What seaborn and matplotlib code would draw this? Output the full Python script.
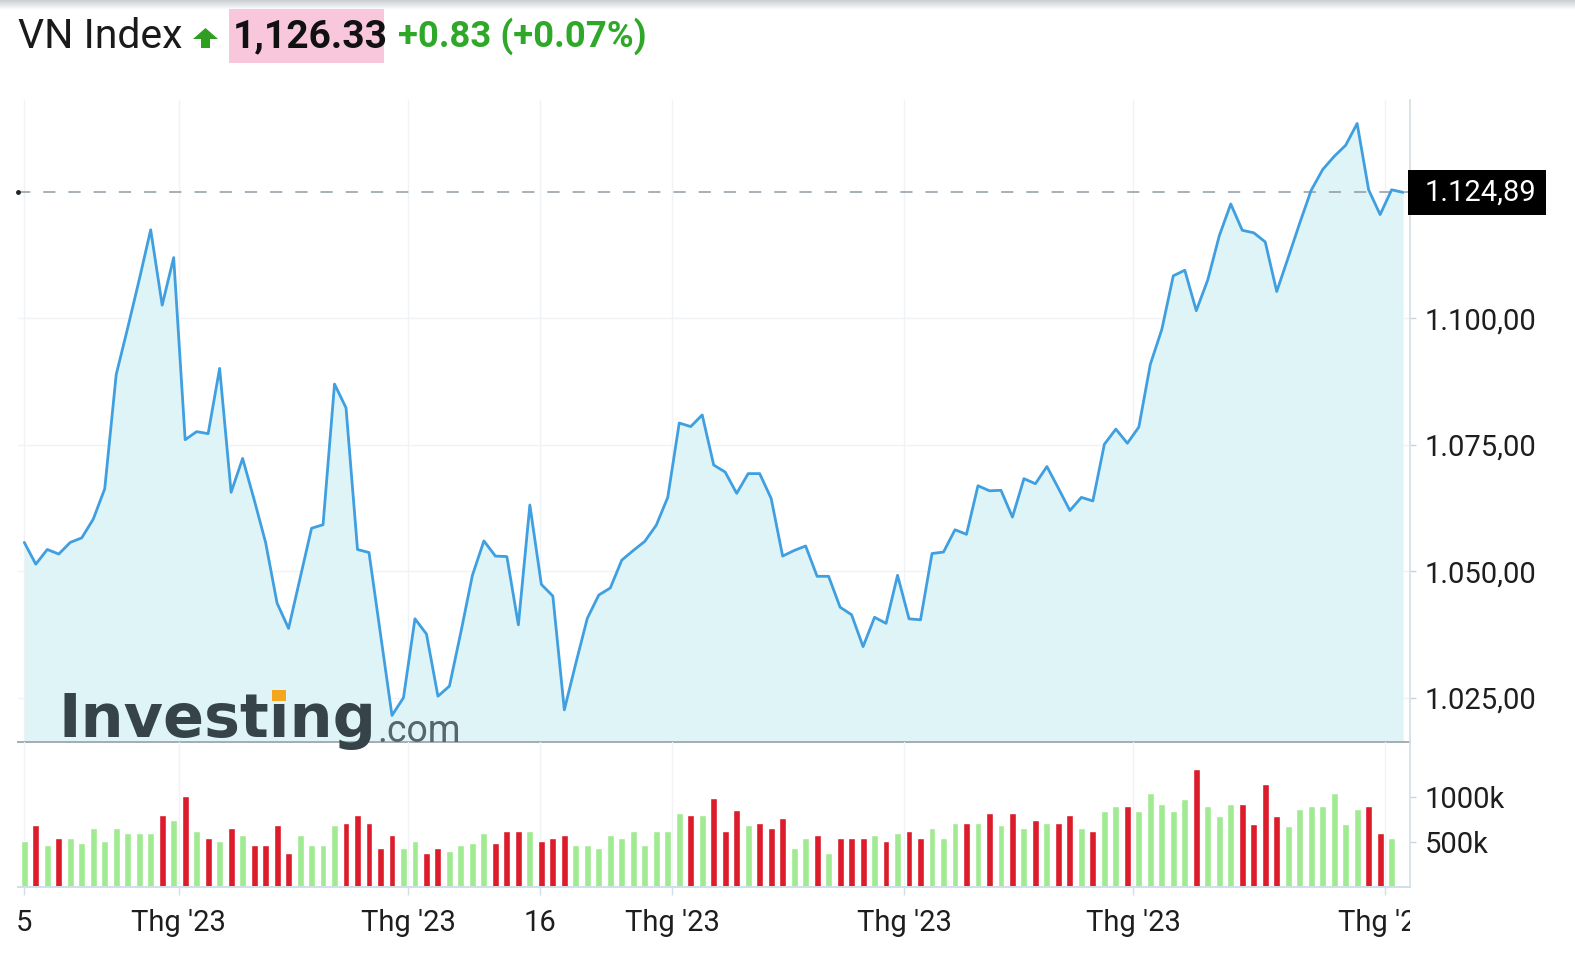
import numpy as np
import pandas as pd
import matplotlib
matplotlib.use("Agg")
import matplotlib.pyplot as plt
import seaborn as sns
from matplotlib.patches import Polygon, Rectangle
from matplotlib.ticker import FuncFormatter
from matplotlib.transforms import Bbox, TransformedBbox, blended_transform_factory

W, H = 1575, 977

# daily closes (index points)
close = [
    1055.7, 1051.4, 1054.3, 1053.4, 1055.7, 1056.6, 1060.3, 1066.3, 1088.9, 1098.1,
    1107.6, 1117.5, 1102.6, 1112.0, 1076.0, 1077.6, 1077.2, 1090.1, 1065.6, 1072.3,
    1064.2, 1055.7, 1043.7, 1038.7, 1048.6, 1058.5, 1059.2, 1087.0, 1082.3, 1054.3,
    1053.7, 1037.6, 1021.5, 1025.0, 1040.6, 1037.6, 1025.3, 1027.3, 1038.0, 1049.2,
    1056.0, 1053.0, 1052.9, 1039.4, 1063.1, 1047.4, 1045.1, 1022.6, 1031.8, 1040.7,
    1045.3, 1046.7, 1052.2, 1054.1, 1055.9, 1059.1, 1064.6, 1079.3, 1078.6, 1080.9,
    1071.0, 1069.6, 1065.4, 1069.3, 1069.3, 1064.4, 1053.0, 1054.1, 1055.0, 1049.0,
    1049.0, 1042.9, 1041.4, 1035.1, 1040.9, 1039.7, 1049.2, 1040.6, 1040.4, 1053.5,
    1053.8, 1058.2, 1057.3, 1066.9, 1065.9, 1066.0, 1060.7, 1068.3, 1067.3, 1070.7,
    1066.4, 1062.0, 1064.6, 1063.9, 1075.1, 1078.1, 1075.3, 1078.5, 1090.9, 1097.8,
    1108.4, 1109.5, 1101.5, 1107.6, 1116.3, 1122.6, 1117.4, 1116.9, 1115.1, 1105.3,
    1112.0, 1118.8, 1125.3, 1129.4, 1132.0, 1134.2, 1138.5, 1125.4, 1120.5, 1125.4,
    1124.89,
]

# volume in thousands
volume_k = [
    511, 678, 456, 537, 537, 485, 648, 511, 648, 596,
    596, 596, 789, 734, 1011, 622, 537, 511, 648, 567,
    456, 456, 678, 370, 567, 456, 456, 678, 707, 789,
    707, 429, 567, 429, 511, 370, 429, 400, 456, 485,
    596, 485, 622, 622, 622, 511, 537, 567, 456, 456,
    429, 567, 537, 622, 456, 622, 622, 815, 789, 789,
    981, 622, 845, 678, 707, 648, 759, 429, 537, 567,
    370, 537, 537, 537, 567, 511, 596, 622, 537, 648,
    537, 707, 707, 707, 815, 678, 815, 648, 734, 707,
    707, 789, 648, 619, 841, 897, 897, 841, 1037, 922,
    841, 977, 1303, 897, 786, 922, 922, 700, 1136, 786,
    674, 866, 897, 897, 1037, 700, 866, 897, 589, 537,
    15,
]

# G = up day, R = down day
direction = ("GRGRGGGGGG" "GGRGRGRGRG" "RRRRGGGGRR" "RRRGGRRGGG" "GRRRGRRRGG"
             "GGGGGGGGRG" "RRRGRRRGGR" "GRRRGRGRRG" "GGRGRGRGRG" "RRGRGGRGGG"
             "GGRGGGRRRR" "GGGGGGGRRG" "R")

tick_pos = [0, 13.43, 33.41, 44.88, 56.37, 76.59, 96.52, 118.42]
tick_labels = ["5", "Thg '23", "Thg '23", "16", "Thg '23", "Thg '23", "Thg '23", "Thg '23"]
price_ticks = [1025, 1050, 1075, 1100]
vol_ticks = [500, 1000]
last_price = 1124.89

LINE = "#3f9fe0"
FILL = "#dff4f6"
GREEN = "#a0ea92"
RED = "#dc1c2b"
GREEN_TXT = "#2fa82a"
PINK = "#f8c7db"

sns.set_theme(style="white")
plt.rcParams['font.family'] = ['Roboto', 'DejaVu Sans']


def fx(px):
    return px / W


def fy(py):
    return 1 - py / H


def vn_fmt(v, pos=None):
    s = f"{v:,.2f}"
    return s.replace(',', 'X').replace('.', ',').replace('X', '.')


df = pd.DataFrame({
    'idx': np.arange(len(close)),
    'close': close,
    'volume': volume_k,
    'dir': list(direction),
})

fig = plt.figure(figsize=(W / 100, H / 100), dpi=100)

# faint shadow at the top edge
top = fig.add_axes([0, fy(10), 1, 10 / H])
top.imshow(np.linspace(0, 1, 50).reshape(-1, 1), aspect='auto',
           cmap=matplotlib.colors.LinearSegmentedColormap.from_list('sh', ['#c9cfd2', '#ffffff']))
top.axis('off')

left, right = 18, 1410
ax = fig.add_axes([fx(left), fy(742), fx(right) - fx(left), fy(100.4) - fy(742)])
axv = fig.add_axes([fx(left), fy(886.5), fx(right) - fx(left), fy(742) - fy(886.5)])
axv.set_facecolor('none')

# price panel
ax.fill_between(df['idx'], df['close'], 1000, color=FILL, lw=0, zorder=1)
sns.lineplot(data=df, x='idx', y='close', ax=ax, color=LINE, lw=2, zorder=3)
xlim = (-0.548, 120.6)
ax.set_xlim(*xlim)
ax.set_ylim(1016.25, 1143.07)
ax.set_xlabel('')
ax.set_ylabel('')
ax.axhline(last_price, color='#8f9ba1', lw=1.1, dashes=(8, 8.5), zorder=2)
ax.plot([xlim[0]], [last_price], 'o', ms=2.5, color='#222222', clip_on=False, zorder=4)

ax.set_xticks(tick_pos)
ax.tick_params(axis='x', length=0, labelbottom=False)
ax.yaxis.tick_right()
ax.set_yticks(price_ticks)
ax.yaxis.set_major_formatter(FuncFormatter(vn_fmt))
ax.tick_params(axis='y', right=True, length=4.3, width=1, color='#c9d2d7', pad=6.5,
               labelsize=21, labelcolor='#1e1e1e')
ax.grid(True, axis='both', color='#f0f3f5', lw=1)
ax.set_axisbelow(True)
for s in ['left', 'top']:
    ax.spines[s].set_visible(False)
ax.spines['right'].set_color('#d6dfe4')
ax.spines['bottom'].set_color('#a3adb2')
ax.spines['bottom'].set_linewidth(1.4)

# last value box on the right axis
axw = right - left
tr = blended_transform_factory(ax.transAxes, ax.transData)
ax.add_patch(Rectangle((1.0 - 2 / axw, last_price - 4.45), 138 / axw, 8.9, transform=tr,
                       facecolor='black', edgecolor='none', clip_on=False, zorder=5))
ax.text(1.0 + 15 / axw, last_price, vn_fmt(last_price), transform=tr, color='white',
        fontsize=21, va='center', ha='left', zorder=6)

# volume panel
sns.barplot(data=df, x='idx', y='volume', hue='dir', palette={'G': GREEN, 'R': RED},
            native_scale=True, dodge=False, width=0.6, errorbar=None, legend=False,
            saturation=1, ax=axv)
axv.set_xlim(*xlim)
axv.set_ylim(0, 1605.6)
axv.set_xlabel('')
axv.set_ylabel('')
axv.set_xticks(tick_pos)
axv.set_xticklabels(tick_labels)
axv.tick_params(axis='x', bottom=True, length=5.8, width=1, color='#cfe0ea', pad=10.3,
                labelsize=21, labelcolor='#1e1e1e')
axv.yaxis.tick_right()
axv.set_yticks(vol_ticks)
axv.set_yticklabels([f"{v}k" for v in vol_ticks])
axv.tick_params(axis='y', right=True, length=4.3, width=1, color='#c9d2d7', pad=6.5,
                labelsize=21, labelcolor='#1e1e1e')
axv.grid(True, axis='x', color='#f0f3f5', lw=1)
axv.set_axisbelow(True)
for s in ['left', 'top']:
    axv.spines[s].set_visible(False)
axv.spines['right'].set_color('#d6dfe4')
axv.spines['bottom'].set_color('#cfe0ea')
axv.spines['bottom'].set_linewidth(1.4)

# last date label is cut at the chart edge
lab = axv.get_xticklabels()[-1]
lab.set_clip_box(TransformedBbox(Bbox([[0, 0], [fx(right), 1]]), fig.transFigure))
lab.set_clip_on(True)

# watermark
logo_kw = dict(fontsize=43.5, family=['DejaVu Sans'], weight='bold', color='#36444a')
fig.text(fx(58), fy(737), "Investing", va='baseline', zorder=5, **logo_kw)
fig.text(fx(377), fy(742), ".com", va='baseline', fontsize=27, color='#56666c', zorder=5)
fig.canvas.draw()
rend = fig.canvas.get_renderer()
widths = []
for s in ["Invest", "Investi"]:
    t = fig.text(0, 0, s, **logo_kw)
    widths.append(t.get_window_extent(rend).width)
    t.remove()
i_mid = 58 + sum(widths) / 2
fig.patches.append(Rectangle((fx(i_mid - 7), fy(701)), 14 / W, 11 / H, transform=fig.transFigure,
                             facecolor='#f4a71e', edgecolor='none', zorder=6))

# header
fig.text(fx(18), fy(36.5), "VN Index", fontsize=29.5, va='center', color='#1a1a1a')
fig.patches.append(Polygon([(fx(205.5), fy(28)), (fx(218), fy(39)), (fx(210), fy(39)),
                            (fx(210), fy(48)), (fx(201), fy(48)), (fx(201), fy(39)),
                            (fx(193), fy(39))], closed=True, transform=fig.transFigure,
                           facecolor='#2f9e22', edgecolor='none'))
fig.patches.append(Rectangle((fx(229), fy(63)), fx(384) - fx(229), fy(9) - fy(63),
                             transform=fig.transFigure, facecolor=PINK, edgecolor='none'))
fig.text(fx(233), fy(36.5), "1,126.33", fontsize=28, weight='bold', va='center', color='#111111')
fig.text(fx(398), fy(36.5), "+0.83 (+0.07%)", fontsize=26.3, weight='bold', va='center',
         color=GREEN_TXT)

fig.savefig('out.png', dpi=100)
